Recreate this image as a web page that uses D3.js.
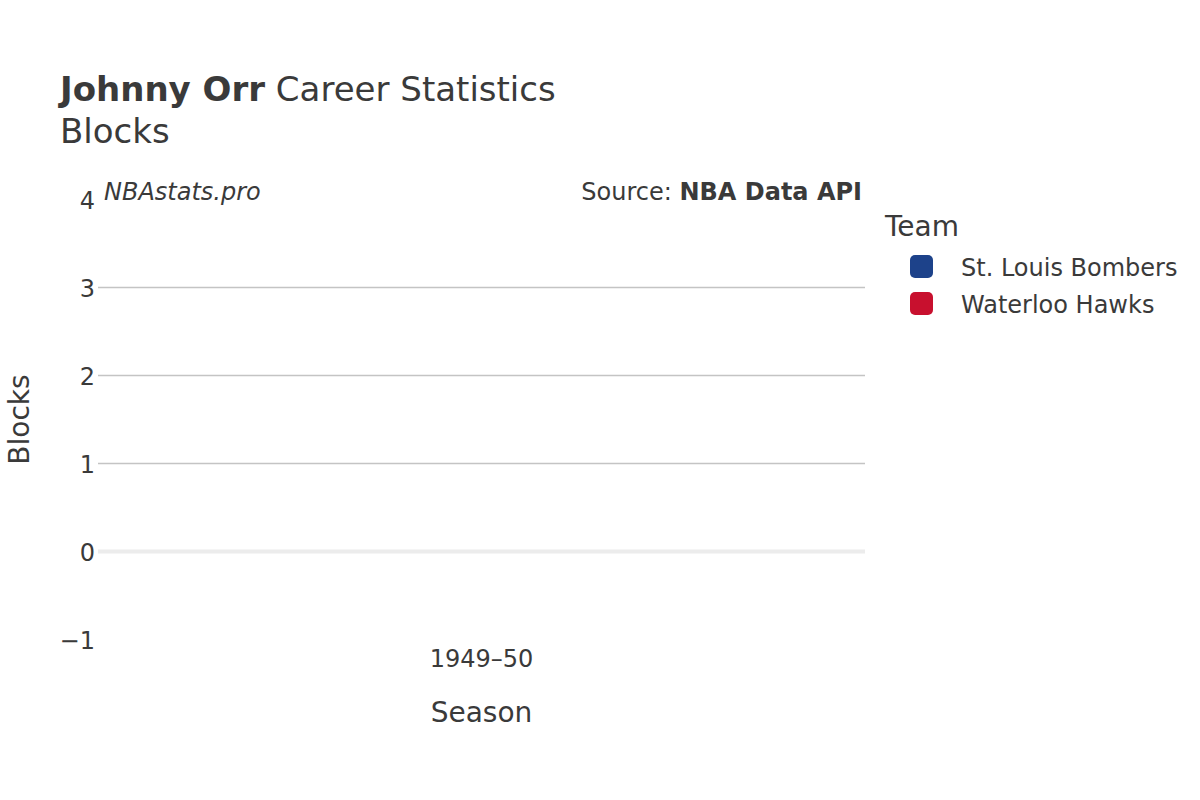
<!DOCTYPE html>
<html>
<head>
<meta charset="utf-8">
<script src="https://cdn.jsdelivr.net/npm/d3@7"></script>
<style>
  body { margin: 0; background: #fff; }
  svg { font-family: "DejaVu Sans", "Noto Sans", sans-serif; }
</style>
</head>
<body>
<svg id="chart" width="1200" height="800"></svg>
<script>
const seasons = ["1949–50"];
const teams = ["St. Louis Bombers", "Waterloo Hawks"];
const teamColors = ["#1d428a", "#c8102e"];
const blocksBombers = [0];
const blocksHawks = [0];
const yTicks = [-1, 0, 1, 2, 3, 4];

const svg = d3.select("#chart");
const W = 1200, H = 800;
const plot = { left: 98, right: 865, top: 199.5, bottom: 639.5 };
const textColor = "#3a3a3a";

svg.append("rect").attr("width", W).attr("height", H).attr("fill", "#fff");

const x = d3.scaleBand().domain(seasons).range([plot.left, plot.right]).paddingInner(0.2).paddingOuter(0.1);
const xInner = d3.scaleBand().domain(teams).range([0, x.bandwidth()]);
const y = d3.scaleLinear().domain([-1, 4]).range([plot.bottom, plot.top]);

// gridlines
svg.append("g").selectAll("line").data(yTicks.filter(d => d !== 0 && d !== 4 && d !== -1)).join("line")
  .attr("x1", plot.left).attr("x2", plot.right)
  .attr("y1", d => y(d)).attr("y2", d => y(d))
  .attr("stroke", "#c4c4c4").attr("stroke-width", 1.5);

// zero line
svg.append("line")
  .attr("x1", plot.left).attr("x2", plot.right)
  .attr("y1", y(0)).attr("y2", y(0))
  .attr("stroke", "#ececec").attr("stroke-width", 4);

// bars
const series = [blocksBombers, blocksHawks];
teams.forEach((t, i) => {
  svg.append("g").selectAll("rect").data(seasons.map((s, j) => ({ s, v: series[i][j] }))).join("rect")
    .attr("x", d => x(d.s) + xInner(t))
    .attr("width", xInner.bandwidth())
    .attr("y", d => Math.min(y(d.v), y(0)))
    .attr("height", d => Math.abs(y(d.v) - y(0)))
    .attr("fill", teamColors[i]);
});

// y tick labels
const yAxis = d3.axisLeft(y).tickValues(yTicks).tickSize(0).tickPadding(3)
  .tickFormat(d => d < 0 ? "\u2212" + Math.abs(d) : d);
const gy = svg.append("g").attr("transform", `translate(${plot.left},0)`).call(yAxis);
gy.select(".domain").remove();
gy.selectAll("text").attr("font-size", 24).attr("fill", textColor)
  .attr("font-family", "DejaVu Sans, sans-serif").attr("dy", "0.38em");

// x tick labels
const xAxis = d3.axisBottom(x).tickSize(0).tickPadding(0);
const gx = svg.append("g").attr("transform", `translate(0,${plot.bottom})`).call(xAxis);
gx.select(".domain").remove();
gx.selectAll("text").attr("font-size", 24).attr("fill", textColor)
  .attr("font-family", "DejaVu Sans, sans-serif").attr("dy", "0").attr("y", 27);

// title
const title = svg.append("text").attr("x", 60).attr("y", 101).attr("font-size", 34).attr("fill", textColor);
title.append("tspan").attr("font-weight", "bold").text("Johnny Orr");
title.append("tspan").text(" Career Statistics");
svg.append("text").attr("x", 60).attr("y", 143).attr("font-size", 34).attr("fill", textColor).text("Blocks");

// watermark & source
svg.append("text").attr("x", 104).attr("y", 200).attr("font-size", 24).attr("font-style", "italic")
  .attr("fill", textColor).text("NBAstats.pro");
const src = svg.append("text").attr("x", 862).attr("y", 200).attr("font-size", 24).attr("text-anchor", "end").attr("fill", textColor);
src.append("tspan").text("Source: ");
src.append("tspan").attr("font-weight", "bold").text("NBA Data API");

// axis titles
svg.append("text").attr("x", (plot.left + plot.right) / 2).attr("y", 722).attr("text-anchor", "middle")
  .attr("font-size", 28).attr("fill", textColor).text("Season");
svg.append("text").attr("transform", `translate(29,${(plot.top + plot.bottom) / 2}) rotate(-90)`)
  .attr("text-anchor", "middle").attr("font-size", 28).attr("fill", textColor).text("Blocks");

// legend
svg.append("text").attr("x", 885).attr("y", 236).attr("font-size", 28).attr("fill", textColor).text("Team");
const leg = svg.append("g").selectAll("g").data(teams).join("g")
  .attr("transform", (d, i) => `translate(0,${266 + i * 37})`);
leg.append("rect").attr("x", 910).attr("y", -11).attr("width", 23).attr("height", 23).attr("rx", 5)
  .attr("fill", (d, i) => teamColors[i]);
leg.append("text").attr("x", 961).attr("y", 0).attr("dy", "0.4em").attr("font-size", 24)
  .attr("fill", textColor).text(d => d);
</script>
</body>
</html>
